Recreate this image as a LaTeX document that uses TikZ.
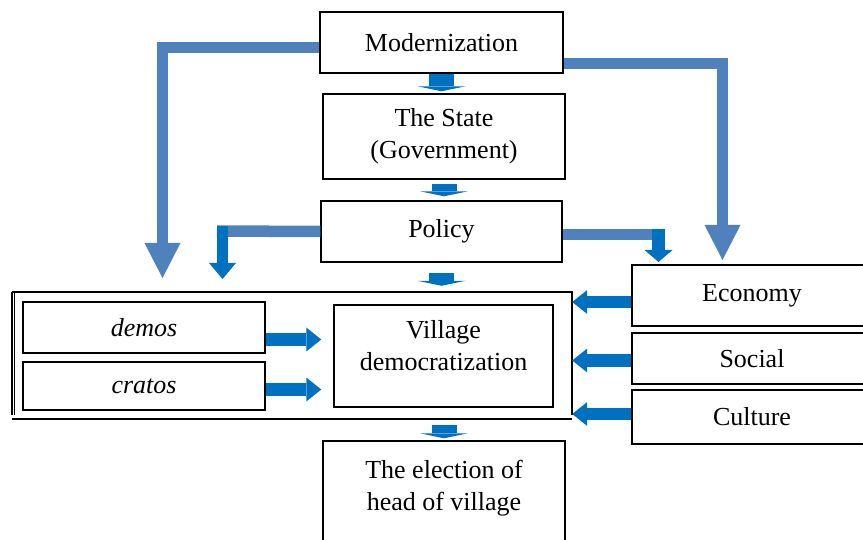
\documentclass[tikz,border=0pt]{standalone}
\usepackage{fontspec}
\setmainfont{Liberation Serif}
\usetikzlibrary{arrows.meta}
\definecolor{steel}{HTML}{4F81BD}
\definecolor{brightblue}{HTML}{0070C0}
\tikzset{
  box/.style={draw=black, line width=1.4pt, rectangle, inner sep=0pt, align=center, font=\fontsize{26}{32}\selectfont},
  textonly/.style={inner sep=0pt, align=center, font=\fontsize{26}{32}\selectfont},
  frameline/.style={draw=black, line width=1.6pt},
  bigarr/.style={draw=steel, line width=11pt, line join=miter, -{Triangle[length=35pt,width=36pt,line width=0pt]}},
  flow/.style={draw=steel, line width=11.5pt},
  downarr/.style={draw=brightblue, fill=brightblue, line width=11pt, -{Triangle[length=16pt,width=27pt,line width=0pt]}},
  downarrb/.style={draw=brightblue, fill=brightblue, line width=13pt, -{Triangle[length=12pt,width=28pt,line width=0pt]}},
  smallarr/.style={draw=brightblue, fill=brightblue, line width=25pt, -{Triangle[length=5pt,width=48pt,line width=0pt]}},
  sidearr/.style={draw=brightblue, fill=brightblue, line width=12.5pt, -{Triangle[length=15pt,width=24pt,line width=0pt]}},
}
\begin{document}
\begin{tikzpicture}[x=1pt,y=-1pt]
\useasboundingbox (0,0) rectangle (863,540);
\clip (0,0) rectangle (863,540);
% boxes
\node[box, minimum width=243pt, minimum height=61pt] (mod) at (441.5,42.5) {Modernization};
\node[box, minimum width=242pt, minimum height=85pt] (state) at (444,136.5) {The State\\(Government)};
\node[box, minimum width=241pt, minimum height=61pt] (policy) at (441.5,231.5) {Policy};
\node[inner sep=0pt, minimum width=560pt, minimum height=127pt] (frame) at (292,355.5) {};
\node[box, minimum width=242pt, minimum height=51pt] (demos) at (144,327.5) {\itshape demos};
\node[box, minimum width=242pt, minimum height=48pt] (cratos) at (144,386) {\itshape cratos};
\node[box, minimum width=219pt, minimum height=102pt] (village) at (443.5,356) {};
\node[textonly] (villagetext) at (443.5,346) {Village\\democratization};
\node[box, minimum width=240pt, minimum height=61pt] (economy) at (752,295.5) {Economy};
\node[box, minimum width=240pt, minimum height=51pt] (social) at (752,358.5) {Social};
\node[box, minimum width=240pt, minimum height=54pt] (culture) at (752,417) {Culture};
\node[box, minimum width=242pt, minimum height=119pt] (election) at (444,500.5) {};
\node[textonly] (electiontext) at (444,488) {The election of\\head of village};
% frame
\draw[frameline] (frame.north west) -- (frame.north east) -- ([yshift=4pt]frame.south east);
\draw[frameline] (frame.north west) -- ([yshift=4pt]frame.south west);
\draw[frameline, line width=1pt] ([xshift=2.5pt]frame.north west) -- ([xshift=2.5pt,yshift=4pt]frame.south west);
\draw[frameline] (frame.south west) -- (frame.south east);
% small vertical arrows
\draw[smallarr, shorten >=2pt] (mod.south) -- (mod.south |- state.north);
\draw[smallarr, shorten <=4pt, shorten >=4pt] (state.south) -- (state.south |- policy.north);
\draw[smallarr, shorten <=10pt, shorten >=6pt] (policy.south) -- (policy.south |- frame.north);
\draw[smallarr, shorten <=6pt, shorten >=2pt] (election.north |- frame.south) -- (election.north);
% big L arrows from Modernization
\coordinate (L1) at (162.5,278);
\coordinate (R1) at (722.5,260);
\draw[bigarr] ([yshift=-5pt]mod.west) -| (L1);
\draw[bigarr] ([yshift=-21pt]mod.east) -| (R1);
% Policy side arrows
\coordinate (PLc) at (217,231);
\coordinate (PLt) at (222.5,226);
\coordinate (PLe) at (222.5,279);
\draw[flow] (policy.west) -- (PLc);
\draw[downarr] (PLt) -- (PLe);
\coordinate (PRc) at (659,234.5);
\coordinate (PRt) at (658.5,229);
\coordinate (PRe) at (658.5,262);
\draw[flow] ([yshift=-3pt]policy.east) -- (PRc);
\draw[downarrb] (PRt) -- (PRe);
% demos / cratos arrows
\coordinate (d1) at ([yshift=-12pt]demos.east);
\coordinate (c1) at ([yshift=-3.5pt]cratos.east);
\draw[sidearr, shorten >=12pt] (d1) -- (d1 -| village.west);
\draw[sidearr, shorten >=12pt] (c1) -- (c1 -| village.west);
% side arrows into frame
\coordinate (e1) at ([yshift=-6.5pt]economy.west);
\coordinate (s1) at ([yshift=-2pt]social.west);
\coordinate (k1) at ([yshift=3pt]culture.west);
\draw[sidearr] (e1) -- (e1 -| frame.east);
\draw[sidearr] (s1) -- (s1 -| frame.east);
\draw[sidearr] (k1) -- (k1 -| frame.east);
\end{tikzpicture}
\end{document}
